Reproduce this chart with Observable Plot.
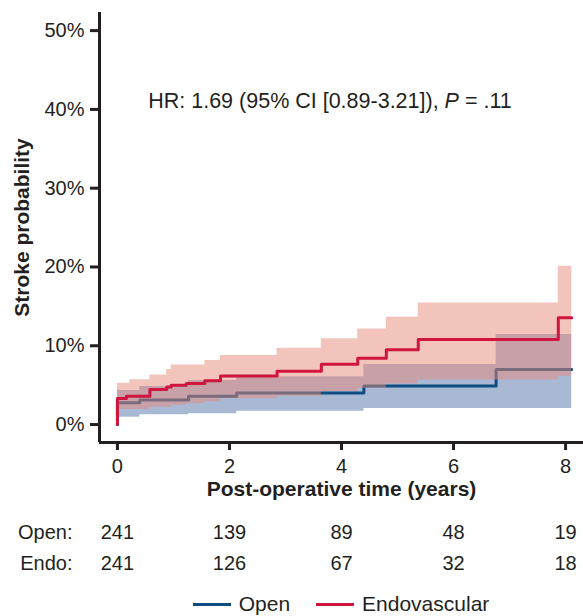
<!DOCTYPE html>
<html>
<head>
<meta charset="utf-8">
<script src="https://cdn.jsdelivr.net/npm/d3@7"></script>
<script src="https://cdn.jsdelivr.net/npm/@observablehq/plot@0.6"></script>
<style>
  body { margin: 0; background: #fff; font-family: "Liberation Sans", Arial, sans-serif; color: #231f20; }
  svg { display: block; }
  #legend { display: flex; justify-content: center; align-items: center; padding-left: 99px; height: 32px; font-size: 21px; color: #231f20; }
  .item { display: flex; align-items: center; }
  .sw { width: 38px; height: 3px; margin-right: 8px; }
  .gap { width: 26px; }
</style>
</head>
<body>
<div id="chart"></div>
<script>
// ---- Data (percent stroke probability vs years) ----
const openTime  = [0, 0, 0.40, 1.27, 2.13, 4.40, 6.76, 8.11];
const openEst   = [0, 2.75, 3.1, 3.6, 4.0, 4.89, 6.98, 6.98];
const openLower = [0, 0.93, 1.23, 1.36, 1.69, 2.03, 2.03, 2.03];
const openUpper = [0, 4.31, 4.82, 5.58, 6.05, 7.61, 11.42, 11.42];

const endoTime  = [0, 0, 0.16, 0.22, 0.58, 0.88, 0.96, 1.23, 1.56, 1.84, 2.85, 3.64, 4.29, 4.80, 5.37, 7.87, 8.11];
const endoEst   = [0, 3.3, 3.6, 3.6, 4.45, 4.75, 5.0, 5.2, 5.55, 6.15, 6.75, 7.65, 8.4, 9.5, 10.78, 13.54, 13.54];
const endoLower = [0, 1.9, 1.9, 1.9, 2.2, 2.2, 2.45, 2.65, 2.9, 3.26, 3.6, 4.2, 4.6, 5.15, 5.64, 6.14, 6.14];
const endoUpper = [0, 5.24, 5.24, 5.67, 6.3, 7.0, 7.55, 7.55, 8.12, 8.76, 9.68, 10.88, 12.14, 13.62, 15.44, 20.09, 20.09];

const xTicks = [0, 2, 4, 6, 8];
const yTicks = [0, 10, 20, 30, 40, 50];

const riskTimes  = [0, 2, 4, 6, 8];
const openAtRisk = [241, 139, 89, 48, 19];
const endoAtRisk = [241, 126, 67, 32, 18];
const riskGroups = ["Open:", "Endo:"];

const seriesNames = ["Open", "Endovascular"];
const seriesColors = ["#0f4c81", "#d0153f"];

const annotParts = ["HR: 1.69 (95% CI [0.89-3.21]), ", "P", " = .11"];
const annotX = 0.55, annotY = 41.1;

const yLabel = "Stroke probability";
const xLabel = "Post-operative time (years)";

// ---- Build tables ----
const X_DOMAIN = [-0.32, 8.32];
const Y_DOMAIN = [-2.28, 52.3];
const openRows = openTime.map((t, i) => ({t, est: openEst[i], lo: openLower[i], hi: openUpper[i]}));
const endoRows = endoTime.map((t, i) => ({t, est: endoEst[i], lo: endoLower[i], hi: endoUpper[i]}));
const ink = "#231f20";
const font = "'Liberation Sans', Arial, sans-serif";

const main = Plot.plot({
  width: 583, height: 502,
  marginLeft: 99, marginRight: 0, marginTop: 12, marginBottom: 60,
  style: {fontFamily: font, fontSize: "20px", color: ink, background: "#fff"},
  x: {domain: X_DOMAIN},
  y: {domain: Y_DOMAIN},
  marks: [
    Plot.areaY(openRows, {x: "t", y1: "lo", y2: "hi", curve: "step-after", fill: "#a9b9d4"}),
    Plot.line(openRows, {x: "t", y: "est", curve: "step-after", stroke: seriesColors[0], strokeWidth: 3}),
    Plot.areaY(endoRows, {x: "t", y1: "lo", y2: "hi", curve: "step-after", fill: "#e58979", fillOpacity: 0.5}),
    Plot.line(endoRows, {x: "t", y: "est", curve: "step-after", stroke: seriesColors[1], strokeWidth: 3}),
    Plot.ruleX([X_DOMAIN[0]], {stroke: ink, strokeWidth: 3}),
    Plot.ruleY([Y_DOMAIN[0]], {stroke: ink, strokeWidth: 3}),
    Plot.axisY({ticks: yTicks, tickFormat: d => d + "%", tickSize: 9, tickPadding: 6, stroke: ink, fill: ink, strokeWidth: 3, label: null, fontSize: 20}),
    Plot.axisX({ticks: xTicks, tickFormat: d => String(d), tickSize: 8, tickPadding: 8, stroke: ink, fill: ink, strokeWidth: 3, label: null, fontSize: 20}),
    Plot.text([yLabel], {frameAnchor: "left", textAnchor: "middle", rotate: -90, dx: -77, fontWeight: "bold", fontSize: 21, fill: ink}),
    Plot.text([xLabel], {frameAnchor: "bottom", textAnchor: "middle", dy: 53, fontWeight: "bold", fontSize: 21, fill: ink}),
    Plot.text([annotParts.join("")], {x: annotX, y: annotY, textAnchor: "start", fontSize: 21.5, fill: ink})
  ]
});

// italic P in the annotation
d3.select(main).selectAll("text").filter(function () { return this.textContent === annotParts.join(""); })
  .each(function () {
    const el = d3.select(this);
    el.text(null).style("white-space", "pre");
    el.append("tspan").text(annotParts[0]);
    el.append("tspan").attr("font-style", "italic").text(annotParts[1]);
    el.append("tspan").text(annotParts[2]);
  });

const riskRows = riskTimes.flatMap((t, i) => [
  {t, group: riskGroups[0], n: openAtRisk[i]},
  {t, group: riskGroups[1], n: endoAtRisk[i]}
]);

const risk = Plot.plot({
  width: 583, height: 86,
  marginLeft: 99, marginRight: 0, marginTop: 14.5, marginBottom: 9.5,
  style: {fontFamily: font, fontSize: "20px", color: ink, background: "#fff"},
  x: {domain: X_DOMAIN, axis: null},
  y: {domain: riskGroups, axis: null},
  marks: [
    Plot.text(riskRows, {x: "t", y: "group", text: d => String(d.n), fontSize: 20, fill: ink}),
    Plot.axisY({tickSize: 0, tickPadding: 27, fontSize: 20, fill: ink, label: null})
  ]
});

const chart = document.getElementById("chart");
chart.appendChild(main);
chart.appendChild(risk);

const legend = document.createElement("div");
legend.id = "legend";
seriesNames.forEach((name, i) => {
  if (i > 0) { const g = document.createElement("div"); g.className = "gap"; legend.appendChild(g); }
  const item = document.createElement("div"); item.className = "item";
  const sw = document.createElement("div"); sw.className = "sw"; sw.style.background = seriesColors[i];
  const lab = document.createElement("span"); lab.textContent = name;
  item.appendChild(sw); item.appendChild(lab);
  legend.appendChild(item);
});
chart.appendChild(legend);
</script>
</body>
</html>
